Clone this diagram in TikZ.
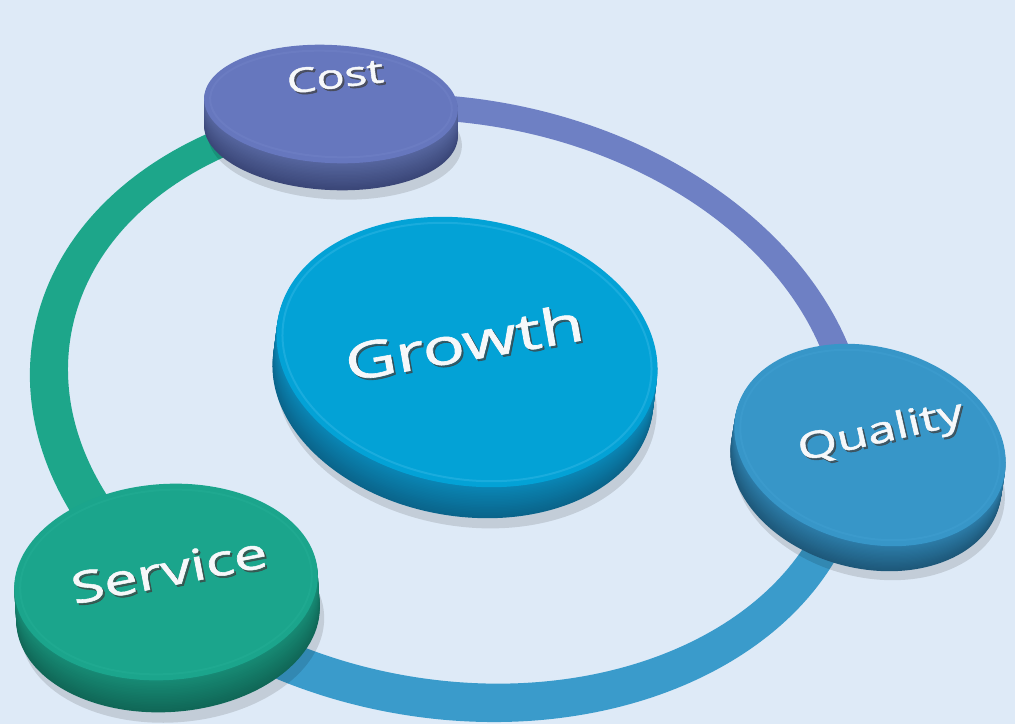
\documentclass[tikz,border=0pt]{standalone}
\usepackage{fontspec}
\setmainfont{Open Sans}
\newfontfamily\lblfont[FakeBold=1.2]{Open Sans}
\usetikzlibrary{calc}
\definecolor{bg}{HTML}{DEEAF7}
\definecolor{ringPurple}{HTML}{6E80C4}
\definecolor{ringBlue}{HTML}{3A9BCB}
\definecolor{ringGreen}{HTML}{1DA68A}
\definecolor{CostTop}{HTML}{6677BE}
\definecolor{CostRim}{HTML}{6B7CC2}
\definecolor{CostSide}{HTML}{56669F}
\definecolor{CostDark}{HTML}{343F6E}
\definecolor{QualTop}{HTML}{3796C8}
\definecolor{QualRim}{HTML}{3B9ACC}
\definecolor{QualSide}{HTML}{2C7CA8}
\definecolor{QualDark}{HTML}{1A4F6E}
\definecolor{ServTop}{HTML}{1BA58C}
\definecolor{ServRim}{HTML}{1FA990}
\definecolor{ServSide}{HTML}{178B75}
\definecolor{ServDark}{HTML}{0E5E4F}
\definecolor{GrowTop}{HTML}{03A2D6}
\definecolor{GrowRim}{HTML}{1AACDD}
\definecolor{GrowSide}{HTML}{0A86B5}
\definecolor{GrowDark}{HTML}{0A5C80}
\definecolor{lblwhite}{HTML}{F6F8FA}
\tikzset{
  lbl/.style={text=lblwhite, inner sep=0pt, yscale=0.72},
  lblshadow/.style={text=black!75, opacity=0.7, inner sep=0pt, yscale=0.72},
}
% #1 name, #2 cx, #3 cy, #4 a, #5 b, #6 rot, #7 dx, #8 dy, #9 colour prefix
\newcommand\mydisc[9]{%
  \coordinate (#1) at (#2,#3);
  \pgfmathsetmacro\sx{#2+1.2*#7+4}%
  \pgfmathsetmacro\sy{#3+1.2*#8+4}%
  \fill[black, opacity=0.12, rotate around={#6:(\sx,\sy)}]
    (\sx,\sy) ellipse [x radius=#4pt, y radius=#5pt];
  \foreach \i in {20,19,...,1}{%
    \pgfmathsetmacro\px{#2+#7*\i/20}%
    \pgfmathsetmacro\py{#3+#8*\i/20}%
    \pgfmathtruncatemacro\pc{100-4*\i}%
    \fill[#9Side!\pc!#9Dark, rotate around={#6:(\px,\py)}]
      (\px,\py) ellipse [x radius=#4pt, y radius=#5pt];
  }
  \fill[#9Top, rotate around={#6:(#2,#3)}] (#2,#3) ellipse [x radius=#4pt, y radius=#5pt];
  \pgfmathsetmacro\ra{#4-6}%
  \pgfmathsetmacro\rb{#5-6}%
  \draw[#9Rim, line width=2pt, rotate around={#6:(#2,#3)}] (#2,#3) ellipse [x radius=\ra pt, y radius=\rb pt];
}
\begin{document}
\begin{tikzpicture}[x=1pt,y=-1pt]
\useasboundingbox (0,0) rectangle (1015,724);
\fill[bg] (0,0) rectangle (1015,724);

% ring centre and sector points
\coordinate (rc) at (450,405);
\coordinate (costFar) at (-145,-1100);
\coordinate (qualFar) at (2970,645);
\coordinate (servFar) at (-970,1290);

\begin{scope}
  \clip (rc) -- (costFar) -- (-3000,-1100) -- (-3000,1290) -- (servFar) -- cycle;
  \fill[ringGreen, even odd rule, rotate around={-10:(449,408)}]
    (449,408) ellipse [x radius=422pt, y radius=310pt]
    (452,401) ellipse [x radius=388pt, y radius=278pt];
\end{scope}
\begin{scope}
  \clip (rc) -- (costFar) -- (3000,-1100) -- (qualFar) -- cycle;
  \fill[ringPurple, even odd rule, rotate around={-10:(449,408)}]
    (449,408) ellipse [x radius=422pt, y radius=310pt]
    (452,401) ellipse [x radius=388pt, y radius=278pt];
\end{scope}
\begin{scope}
  \clip (rc) -- (qualFar) -- (3000,3000) -- (-3000,3000) -- (servFar) -- cycle;
  \fill[ringBlue, even odd rule, rotate around={-10:(449,408)}]
    (449,408) ellipse [x radius=422pt, y radius=310pt]
    (452,401) ellipse [x radius=388pt, y radius=278pt];
\end{scope}

% discs
\mydisc{cost}{331}{104}{127}{59}{-3}{0}{27}{Cost}
\mydisc{growth}{467}{352}{192}{133}{-10}{-4}{31}{Grow}
\mydisc{quality}{870}{445}{138}{98}{-15}{-4}{25}{Qual}
\mydisc{service}{166}{582}{152}{98}{4}{2}{32}{Serv}

% labels (shadow, then text)
\node[rotate=7, lblshadow, font=\lblfont\fontsize{47}{50}\selectfont] (costsh) at (337,78) {Cost};
\node[rotate=7, lbl, font=\lblfont\fontsize{47}{50}\selectfont] (costtxt) at (335,76) {Cost};
\node[rotate=10, lblshadow, font=\lblfont\fontsize{70}{74}\selectfont] (growthsh) at (466,344) {Growth};
\node[rotate=10, lbl, font=\lblfont\fontsize{70}{74}\selectfont] (growthtxt) at (464,342) {Growth};
\node[rotate=13, lblshadow, font=\lblfont\fontsize{51}{55}\selectfont] (qualitysh) at (883,435) {Quality};
\node[rotate=13, lbl, font=\lblfont\fontsize{51}{55}\selectfont] (qualitytxt) at (881,433) {Quality};
\node[rotate=11, lblshadow, font=\lblfont\fontsize{60}{64}\selectfont] (servicesh) at (171,572) {Service};
\node[rotate=11, lbl, font=\lblfont\fontsize{60}{64}\selectfont] (servicetxt) at (169,570) {Service};
\end{tikzpicture}
\end{document}
